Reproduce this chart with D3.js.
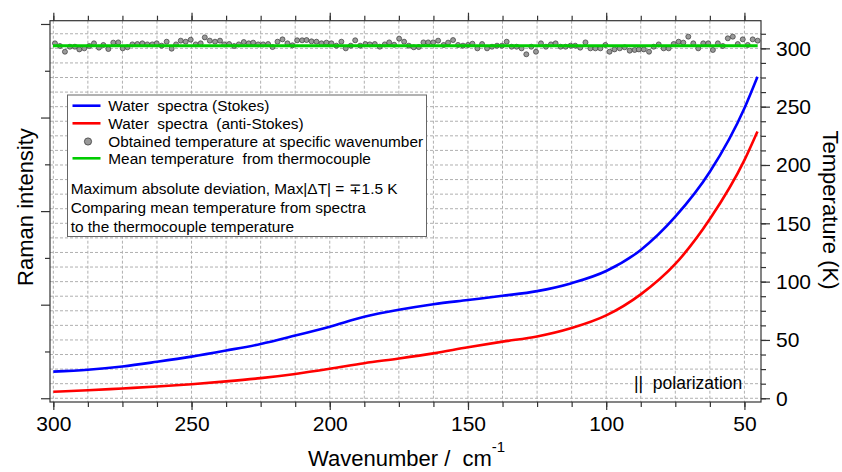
<!DOCTYPE html>
<html>
<head>
<meta charset="utf-8">
<script src="https://cdn.jsdelivr.net/npm/d3@7"></script>
<style>
    body { margin: 0; background: #fff; }
    svg text { font-family: "Liberation Sans", Arial, sans-serif; fill: #000; white-space: pre; }
</style>
</head>
<body>
<div id="chart"></div>
<script>
// spectra, sampled along the wavenumber axis (cm-1), intensity in arbitrary units
const specWavenumber = [300, 287.5, 275, 262.5, 250, 237.5, 225, 212.5, 200, 187.5, 175, 162.5, 150, 137.5, 125, 112.5, 100, 87.5, 75, 62.5, 50, 45.3];
const stokes = [0.57, 0.61, 0.68, 0.78, 0.89, 1.02, 1.16, 1.34, 1.53, 1.74, 1.89, 2.01, 2.10, 2.19, 2.29, 2.46, 2.72, 3.17, 3.88, 4.84, 6.20, 6.87];
const antiStokes = [0.14, 0.17, 0.21, 0.25, 0.30, 0.36, 0.43, 0.52, 0.63, 0.75, 0.85, 0.96, 1.09, 1.21, 1.32, 1.50, 1.77, 2.22, 2.87, 3.83, 5.09, 5.70];

// temperature obtained at each wavenumber (K)
const dotWavenumber = [299.4, 297.6, 295.8, 294.0, 292.2, 290.6, 288.8, 287.0, 285.3, 283.5, 281.9, 280.1, 278.3, 276.5, 274.9, 273.2, 271.4, 269.6, 267.8, 266.0,
    264.2, 262.6, 260.8, 259.0, 257.2, 255.6, 253.9, 252.1, 250.3, 248.5, 246.7, 245.2, 243.4, 241.5, 239.7, 238.2, 236.4, 234.6, 232.9, 231.1,
    229.3, 227.7, 225.9, 224.1, 222.3, 220.7, 218.9, 217.1, 215.3, 213.5, 211.8, 210.0, 208.4, 206.6, 204.8, 203.0, 201.2, 199.4, 197.6, 195.8,
    194.2, 192.4, 190.8, 189.0, 187.1, 185.5, 183.7, 181.9, 180.1, 178.5, 176.7, 174.9, 173.1, 171.4, 169.6, 167.8, 166.1, 164.4, 162.6, 160.8,
    158.8, 157.2, 155.4, 153.6, 151.8, 150.0, 148.4, 146.6, 144.9, 143.1, 141.3, 139.5, 137.7, 136.0, 134.2, 132.4, 130.6, 128.9, 127.1, 125.4,
    123.6, 121.8, 120.0, 118.3, 116.5, 114.7, 112.9, 111.2, 109.4, 107.5, 105.7, 103.9, 102.1, 100.3, 98.8, 97.0, 95.1, 93.3, 91.5, 89.7,
    88.2, 86.4, 84.5, 82.8, 81.0, 79.2, 77.4, 75.6, 73.8, 72.1, 70.3, 68.5, 66.7, 64.9, 63.1, 61.4, 59.6, 57.8, 56.0, 54.2,
    52.4, 50.6, 48.8, 47.0, 45.2];
const dotTemp = [304.3, 302.0, 297.1, 301.4, 301.4, 299.1, 300.0, 302.0, 304.3, 300.6, 302.9, 299.4, 304.9, 305.1, 300.0, 300.9, 303.4, 303.7, 304.3, 303.4,
    303.4, 304.3, 302.3, 305.7, 299.7, 303.4, 306.6, 305.7, 307.4, 303.4, 304.3, 309.4, 306.6, 305.7, 306.6, 303.4, 303.7, 302.0, 303.4, 305.4,
    304.3, 304.9, 303.4, 303.4, 303.7, 301.1, 305.7, 307.7, 304.3, 302.6, 306.9, 306.9, 307.1, 306.0, 305.7, 304.3, 304.9, 304.3, 302.3, 305.7,
    300.0, 302.3, 306.9, 302.3, 303.7, 303.4, 303.7, 301.4, 303.4, 305.1, 303.1, 308.3, 305.7, 302.3, 300.9, 301.1, 305.1, 305.1, 305.1, 306.6,
    302.9, 304.9, 307.1, 302.9, 302.3, 302.9, 304.0, 300.0, 303.7, 300.0, 301.4, 302.3, 302.3, 305.7, 301.4, 301.4, 300.0, 294.9, 301.4, 297.1,
    304.3, 301.4, 303.4, 304.3, 301.4, 301.4, 302.3, 302.3, 300.6, 305.1, 300.0, 300.0, 300.0, 302.9, 297.1, 299.1, 300.0, 300.9, 298.0, 298.6,
    299.1, 299.1, 297.1, 301.4, 303.4, 300.0, 300.0, 303.7, 305.7, 304.9, 310.0, 304.3, 300.0, 304.3, 304.3, 298.6, 304.3, 302.0, 308.6, 310.0,
    303.7, 307.7, 302.9, 307.7, 306.6];
const meanTemp = 302.2;

// ticks
const xMajorTicks = [300, 250, 200, 150, 100, 50];
const xMinorTicks = d3.range(300, 44, -12.5);
const tMajorTicks = [0, 50, 100, 150, 200, 250, 300];
const tMinorTicks = d3.range(0, 320, 12.5);
const iMajorTicks = [0, 2, 4, 6, 8];
const iMinorTicks = [1, 3, 5, 7];

const legendItems = [
    {label: "Water  spectra (Stokes)", type: "line", color: "#0000ff"},
    {label: "Water  spectra  (anti-Stokes)", type: "line", color: "#ff0000"},
    {label: "Obtained temperature at specific wavenumber", type: "dot", color: "#999"},
    {label: "Mean temperature  from thermocouple", type: "line", color: "#00cc00"}
];
const noteLines = [
    "Maximum absolute deviation, Max|\u0394T| = \u22131.5 K",
    "Comparing mean temperature from spectra",
    "to the thermocouple temperature"
];

let width = 842, height = 472;
let margin = {top: 20.7, right: 81, bottom: 70, left: 50};
let plotRight = width - margin.right, plotBottom = height - margin.bottom;

let svg = d3.select("#chart").append("svg")
    .attr("width", width)
    .attr("height", height);

// scales
let x = d3.scaleLinear().domain([301.2, 44]).range([margin.left, plotRight]);
let yT = d3.scaleLinear().domain([-3.2, 323.7]).range([plotBottom, margin.top]);
let yI = d3.scaleLinear().domain([-0.08, 8.07]).range([plotBottom, margin.top]);

// grid
let grid = svg.append("g")
    .attr("stroke", "#b0b0b0")
    .attr("stroke-width", 1)
    .attr("stroke-dasharray", "3,2");
grid.selectAll(".vgrid")
    .data(xMinorTicks)
    .join("line")
    .attr("x1", d => x(d)).attr("x2", d => x(d))
    .attr("y1", margin.top).attr("y2", plotBottom);
grid.selectAll(".hgrid")
    .data(tMinorTicks)
    .join("line")
    .attr("x1", margin.left).attr("x2", plotRight)
    .attr("y1", d => yT(d)).attr("y2", d => yT(d));

// spectra
let specData = specWavenumber.map((w, i) => ({w: w, s: stokes[i], a: antiStokes[i]}));
let line = key => d3.line()
    .x(d => x(d.w))
    .y(d => yI(d[key]))
    .curve(d3.curveMonotoneX);

svg.append("path")
    .datum(specData)
    .attr("d", line("a"))
    .attr("fill", "none")
    .attr("stroke", "#ff0000")
    .attr("stroke-width", 2.6);

svg.append("path")
    .datum(specData)
    .attr("d", line("s"))
    .attr("fill", "none")
    .attr("stroke", "#0000ff")
    .attr("stroke-width", 2.6);

// temperature dots
svg.selectAll(".dot")
    .data(dotWavenumber.map((w, i) => ({w: w, t: dotTemp[i]})))
    .join("circle")
    .attr("class", "dot")
    .attr("cx", d => x(d.w))
    .attr("cy", d => yT(d.t))
    .attr("r", 2.5)
    .attr("fill", "#9a9a9a")
    .attr("stroke", "#3a3a3a")
    .attr("stroke-width", 0.7);

// mean line from thermocouple
svg.append("line")
    .attr("x1", x(dotWavenumber[0]) - 2)
    .attr("x2", x(dotWavenumber[dotWavenumber.length - 1]))
    .attr("y1", yT(meanTemp))
    .attr("y2", yT(meanTemp))
    .attr("stroke", "#00cc00")
    .attr("stroke-width", 3);

// axes
function drawAxis(axisFn, scale, transform, majors, minors, majorSize, minorSize, labels) {
    let gMinor = svg.append("g")
        .attr("transform", transform)
        .call(axisFn(scale).tickValues(minors).tickSize(minorSize).tickFormat(""));
    let gMajor = svg.append("g")
        .attr("transform", transform)
        .call(axisFn(scale).tickValues(majors).tickSize(majorSize).tickPadding(6)
            .tickFormat(labels ? d3.format("d") : ""));
    [gMinor, gMajor].forEach(g => {
        g.select(".domain").remove();
        g.selectAll("line").attr("stroke", "#333").attr("stroke-width", 1.2);
        g.selectAll("text")
            .style("font-family", "'Liberation Sans', Arial, sans-serif")
            .style("font-size", "21px")
            .attr("fill", "#000");
    });
}

drawAxis(d3.axisBottom, x, `translate(0,${plotBottom})`, xMajorTicks, xMinorTicks, 8, 5, true);
drawAxis(d3.axisTop, x, `translate(0,${margin.top})`, xMajorTicks, xMinorTicks, 8, 5, false);
drawAxis(d3.axisRight, yT, `translate(${plotRight},0)`, tMajorTicks, tMinorTicks, 9, 5, true);
drawAxis(d3.axisLeft, yI, `translate(${margin.left},0)`, iMajorTicks, iMinorTicks, 9, 5, false);

// frame
svg.append("rect")
    .attr("x", margin.left)
    .attr("y", margin.top)
    .attr("width", plotRight - margin.left)
    .attr("height", plotBottom - margin.top)
    .attr("fill", "none")
    .attr("stroke", "#333")
    .attr("stroke-width", 1.2);

// axis titles
let xTitle = svg.append("text")
    .attr("x", 308)
    .attr("y", 466)
    .style("font-size", "22px");
xTitle.append("tspan").text("Wavenumber /  cm");
xTitle.append("tspan").attr("dy", -14).style("font-size", "15px").text("-1");

svg.append("text")
    .attr("transform", "translate(33,207) rotate(-90)")
    .attr("text-anchor", "middle")
    .style("font-size", "22px")
    .text("Raman intensity");

svg.append("text")
    .attr("transform", "translate(823,210) rotate(90)")
    .attr("text-anchor", "middle")
    .style("font-size", "22px")
    .text("Temperature (K)");

// legend
let legend = svg.append("g");
legend.append("rect")
    .attr("x", 67.5).attr("y", 95)
    .attr("width", 359).attr("height", 141.5)
    .attr("fill", "#fff")
    .attr("stroke", "#666")
    .attr("stroke-width", 1);

let rowY = [105.7, 123.3, 141.5, 158.3];
legendItems.forEach((item, i) => {
    if (item.type === "line") {
        legend.append("line")
            .attr("x1", 72.5).attr("x2", 100.5)
            .attr("y1", rowY[i]).attr("y2", rowY[i])
            .attr("stroke", item.color)
            .attr("stroke-width", 2.6);
    } else {
        legend.append("circle")
            .attr("cx", 88).attr("cy", rowY[i])
            .attr("r", 3.6)
            .attr("fill", item.color)
            .attr("stroke", "#3a3a3a")
            .attr("stroke-width", 0.8);
    }
    legend.append("text")
        .attr("x", 108.3)
        .attr("y", rowY[i])
        .attr("dy", "0.36em")
        .style("font-size", "15.4px")
        .text(item.label);
});

let noteY = [188.3, 207.5, 226.2];
noteLines.forEach((t, i) => {
    legend.append("text")
        .attr("x", 70.7)
        .attr("y", noteY[i])
        .attr("dy", "0.36em")
        .style("font-size", "15.4px")
        .text(t);
});

// polarization note
svg.append("text")
    .attr("x", 634)
    .attr("y", 383)
    .attr("dy", "0.36em")
    .style("font-size", "17.5px")
    .text("||  polarization");
</script>
</body>
</html>
